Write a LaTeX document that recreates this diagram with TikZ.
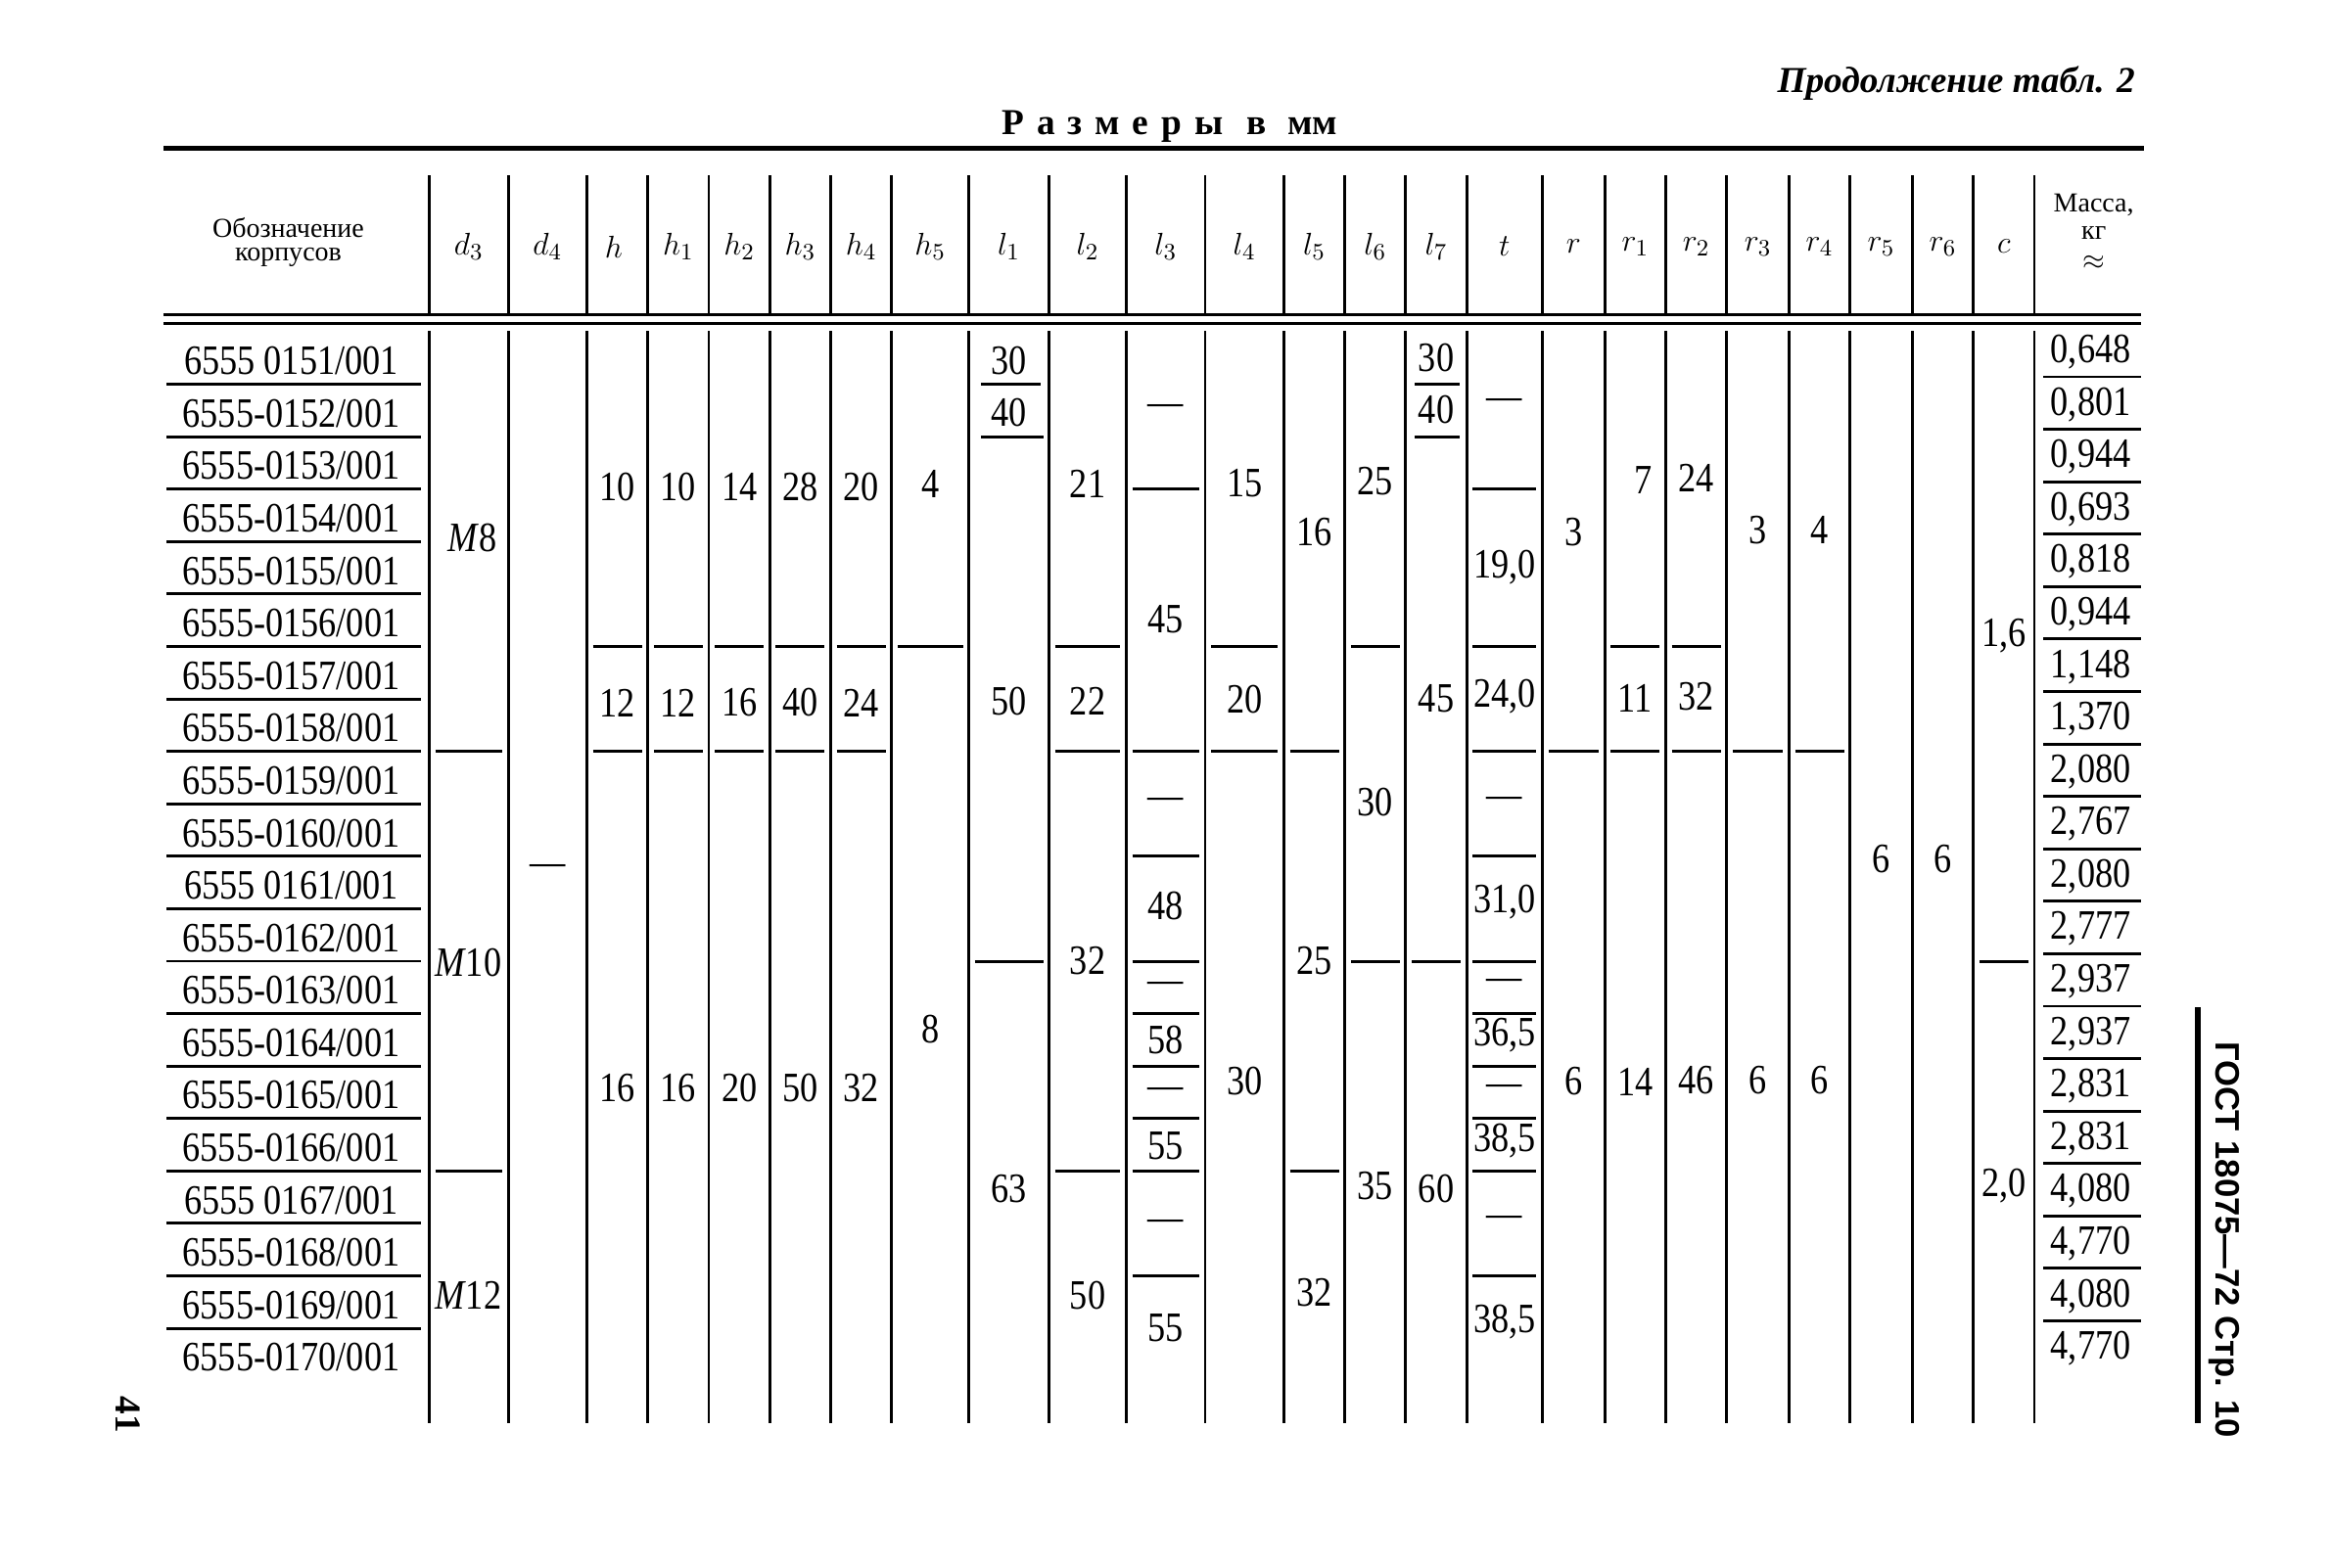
\documentclass[tikz,border=0pt]{standalone}
\usepackage{fontspec}
\setmainfont{Liberation Serif}
\newfontfamily\numfont[FakeStretch=0.85]{Liberation Serif}
\newfontfamily\widefont[LetterSpace=35]{Liberation Serif}
\newfontfamily\gostfont{Liberation Sans}
\usetikzlibrary{positioning,calc}
\tikzset{
  rule/.style={line width=1.1pt},
  val/.style={font=\numfont\fontsize{16}{18}\selectfont, inner sep=0pt},
  lab/.style={font=\fontsize{13}{15}\selectfont, inner sep=0pt},
  hd/.style={font=\fontsize{10.5}{12}\selectfont, inner sep=0pt},
}
\newcommand{\dsh}{—}

\begin{document}
\begin{tikzpicture}[x=0.02cm,y=-0.02cm]
        \useasboundingbox (0,0) rectangle (1568,1055);
        %titles
        \node[anchor=east, font=\bfseries\itshape\fontsize{14}{16}\selectfont] (cont) at (1443,56) {Продолжение табл. 2};
        \node[anchor=west, font=\bfseries\fontsize{14}{16}\selectfont] (units) at (668,85) {{\widefont Размеры}\hspace{9pt}{\widefont в}\hspace{8pt}мм};
        %rules
        \draw[line width=2pt] (110,100) -- (1443,100);
        \draw[rule] (110,212) -- (1441,212);
        \draw[rule] (110,217.5) -- (1441,217.5);
        \foreach \x in {289,342,395,436,477,518,559,600,652,706,758,811,864,905,946,987,1038,1080,1121,1162,1204,1245,1287,1328,1369} {
          \draw[rule] (\x,118) -- (\x,213);
          \draw[rule] (\x,223) -- (\x,958);
        }
        %header
        \node[hd] (desig) at (194,153) {Обозначение};
        \node[hd] (desig2) at (194,173) {корпусов};
        \node[hd] (mass) at (1409,138) {Масса,};
        \node[hd] (mass2) at (1409,157) {кг};
        \node[hd] (mass3) at (1409,177) {$\approx$};
        \foreach \x/\lbl [count=\k] in {315.5/$d_3$, 368.5/$d_4$, 413/$h$, 456.5/$h_1$, 497.5/$h_2$, 538.5/$h_3$, 579.5/$h_4$, 626/$h_5$, 679/$l_1$, 732/$l_2$, 784.5/$l_3$, 837.5/$l_4$, 884.5/$l_5$, 925.5/$l_6$, 966.5/$l_7$, 1012.5/$t$, 1059/$r$, 1100.5/$r_1$, 1141.5/$r_2$, 1183/$r_3$, 1224.5/$r_4$, 1266/$r_5$, 1307.5/$r_6$, 1348.5/$c$}
          \node[lab] (col\k) at (\x,166) {\lbl};
        %designations
        \foreach \code/\dd [count=\k] in {0151/\space, 0152/-, 0153/-, 0154/-, 0155/-, 0156/-, 0157/-, 0158/-, 0159/-, 0160/-, 0161/\space, 0162/-, 0163/-, 0164/-, 0165/-, 0166/-, 0167/\space, 0168/-, 0169/-, 0170/-}
          \node[val] (row\k) at (196,{243+35.3*(\k-1)}) {6555\dd\code/001};
        \foreach \k in {1,...,19}
          \draw[rule] (112,{223.35+35.3*\k}) -- (283,{223.35+35.3*\k});
        %mass
        \foreach \m [count=\k] in {{0,648},{0,801},{0,944},{0,693},{0,818},{0,944},{1,148},{1,370},{2,080},{2,767},{2,080},{2,777},{2,937},{2,937},{2,831},{2,831},{4,080},{4,770},{4,080},{4,770}}
          \node[val] (m\k) at (1407,{237+35.3*(\k-1)}) {\m};
        \foreach \k in {1,...,19}
          \draw[rule] (1375,{218.35+35.3*\k}) -- (1441,{218.35+35.3*\k});
        %d3, d4
        \node[val] (d3-a) at (318,362) {\textit{M}8};
        \node[val] (d3-b) at (315,648) {\textit{M}10};
        \node[val] (d3-c) at (315,872) {\textit{M}12};
        \draw[rule] (293,505.8) -- (338,505.8) (293,788.2) -- (338,788.2);
        \node[val] (d4-a) at (368.5,586) {\dsh};
        %h .. h4
        \node[val] (h-a) at (415.5,328) {10};
        \node[val] (h-b) at (415.5,473) {12};
        \node[val] (h-c) at (415.5,732) {16};
        \node[val] (h1-a) at (456.5,328) {10};
        \node[val] (h1-b) at (456.5,473) {12};
        \node[val] (h1-c) at (456.5,732) {16};
        \node[val] (h2-a) at (497.5,328) {14};
        \node[val] (h2-b) at (497.5,473) {16};
        \node[val] (h2-c) at (497.5,732) {20};
        \node[val] (h3-a) at (538.5,328) {28};
        \node[val] (h3-b) at (538.5,473) {40};
        \node[val] (h3-c) at (538.5,732) {50};
        \node[val] (h4-a) at (579.5,328) {20};
        \node[val] (h4-b) at (579.5,473) {24};
        \node[val] (h4-c) at (579.5,732) {32};
        \foreach \l/\r in {399/432, 440/473, 481/514, 522/555, 563/596}
          \draw[rule] (\l,435.2) -- (\r,435.2) (\l,505.8) -- (\r,505.8);
        \node[val] (h5-a) at (626,326) {4};
        \node[val] (h5-b) at (626,693) {8};
        \draw[rule] (604,435.2) -- (648,435.2);
        %l1, l2
        \node[val] (l1-a) at (679,243) {30};
        \node[val] (l1-b) at (679,278) {40};
        \node[val] (l1-c) at (679,472) {50};
        \node[val] (l1-d) at (679,800) {63};
        \draw[rule] (660,258.6) -- (700,258.6) (660,293.9) -- (702,293.9) (656,647) -- (702,647);
        \node[val] (l2-a) at (732,326) {21};
        \node[val] (l2-b) at (732,472) {22};
        \node[val] (l2-c) at (732,647) {32};
        \node[val] (l2-d) at (732,872) {50};
        \draw[rule] (710,435.2) -- (754,435.2) (710,505.8) -- (754,505.8) (710,788.2) -- (754,788.2);
        %l3
        \node[val] (l3-a) at (784.5,276) {\dsh};
        \node[val] (l3-b) at (784.5,417) {45};
        \node[val] (l3-c) at (784.5,541) {\dsh};
        \node[val] (l3-d) at (784.5,610) {48};
        \node[val] (l3-e) at (784.5,665) {\dsh};
        \node[val] (l3-f) at (784.5,700) {58};
        \node[val] (l3-g) at (784.5,736) {\dsh};
        \node[val] (l3-h) at (784.5,771) {55};
        \node[val] (l3-i) at (784.5,825) {\dsh};
        \node[val] (l3-j) at (784.5,894) {55};
        \foreach \b in {329.2,505.8,576.4,647,682.3,717.6,752.9,788.2,858.8}
          \draw[rule] (762,\b) -- (807,\b);
        %l4 .. l7
        \node[val] (l4-a) at (837.5,325) {15};
        \node[val] (l4-b) at (837.5,471) {20};
        \node[val] (l4-c) at (837.5,728) {30};
        \draw[rule] (815,435.2) -- (860,435.2) (815,505.8) -- (860,505.8);
        \node[val] (l5-a) at (884.5,358) {16};
        \node[val] (l5-b) at (884.5,647) {25};
        \node[val] (l5-c) at (884.5,870) {32};
        \draw[rule] (868,505.8) -- (901,505.8) (868,788.2) -- (901,788.2);
        \node[val] (l6-a) at (925.5,324) {25};
        \node[val] (l6-b) at (925.5,540) {30};
        \node[val] (l6-c) at (925.5,798) {35};
        \draw[rule] (909,435.2) -- (942,435.2) (909,647) -- (942,647);
        \node[val] (l7-a) at (966.5,241) {30};
        \node[val] (l7-b) at (966.5,276) {40};
        \node[val] (l7-c) at (966.5,470) {45};
        \node[val] (l7-d) at (966.5,800) {60};
        \draw[rule] (952,258.6) -- (982,258.6) (952,293.9) -- (982,293.9) (950,647) -- (983,647);
        %t
        \node[val] (t-a) at (1012.5,272) {\dsh};
        \node[val] (t-b) at (1012.5,382) {19,0};
        \node[val] (t-c) at (1012.5,469) {24,0};
        \node[val] (t-d) at (1012.5,540) {\dsh};
        \node[val] (t-e) at (1012.5,607) {31,0};
        \node[val] (t-f) at (1012.5,663) {\dsh};
        \node[val] (t-g) at (1012.5,697) {36,5};
        \node[val] (t-h) at (1012.5,734) {\dsh};
        \node[val] (t-i) at (1012.5,768) {38,5};
        \node[val] (t-j) at (1012.5,822) {\dsh};
        \node[val] (t-k) at (1012.5,890) {38,5};
        \foreach \b in {329.2,435.2,505.8,576.4,647,682.3,717.6,752.9,788.2,858.8}
          \draw[rule] (991,\b) -- (1034,\b);
        %r .. r6, c
        \node[val] (r-a) at (1059,358) {3};
        \node[val] (r-b) at (1059,728) {6};
        \draw[rule] (1042,505.8) -- (1076,505.8);
        \node[val] (r1-a) at (1106,323) {7};
        \node[val] (r1-b) at (1100.5,470) {11};
        \node[val] (r1-c) at (1100.5,728) {14};
        \draw[rule] (1084,435.2) -- (1117,435.2) (1084,505.8) -- (1117,505.8);
        \node[val] (r2-a) at (1141.5,322) {24};
        \node[val] (r2-b) at (1141.5,469) {32};
        \node[val] (r2-c) at (1141.5,727) {46};
        \draw[rule] (1125,435.2) -- (1158,435.2) (1125,505.8) -- (1158,505.8);
        \node[val] (r3-a) at (1183,357) {3};
        \node[val] (r3-b) at (1183,727) {6};
        \draw[rule] (1166,505.8) -- (1200,505.8);
        \node[val] (r4-a) at (1224.5,357) {4};
        \node[val] (r4-b) at (1224.5,727) {6};
        \draw[rule] (1208,505.8) -- (1241,505.8);
        \node[val] (r5-a) at (1266,578) {6};
        \node[val] (r6-a) at (1307.5,578) {6};
        \node[val] (c-a) at (1348.5,428) {1,6};
        \node[val] (c-b) at (1348.5,798) {2,0};
        \draw[rule] (1332,647) -- (1365,647);
        %margins
        \draw[line width=2.4pt] (1479,678) -- (1479,958);
        \node[rotate=-90, anchor=west, font=\gostfont\bfseries\fontsize{13}{15}\selectfont] (gost) at (1497,695) {ГОСТ 18075—72 Стр. 10};
        \node[rotate=-90, font=\bfseries\fontsize{14}{16}\selectfont] (page) at (86,952) {41};
\end{tikzpicture}
\end{document}
